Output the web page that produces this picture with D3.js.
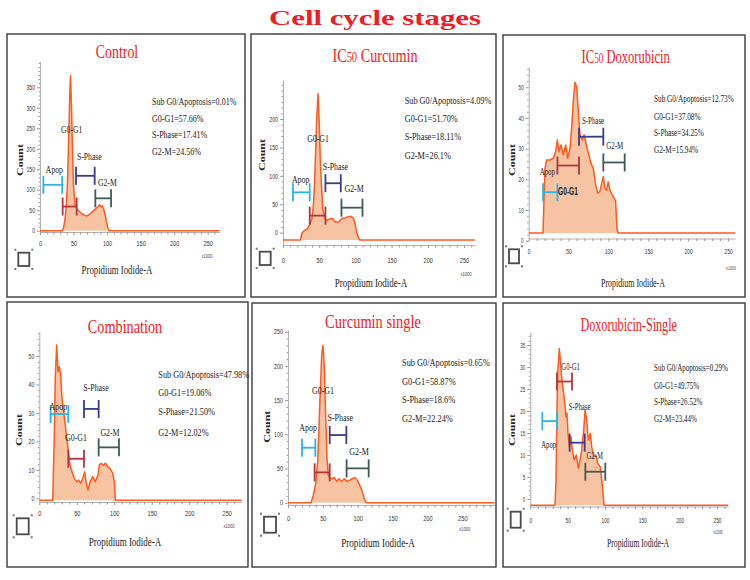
<!DOCTYPE html>
<html><head><meta charset="utf-8">
<script src="https://cdn.jsdelivr.net/npm/d3@7"></script>
<style>body{margin:0;background:#fff}svg{display:block}</style>
</head><body>
<svg id="c" width="750" height="580"></svg>
<script>
// ---------------- DATA ----------------
const mainTitle = "Cell cycle stages";
const panelTitles = ["Control", "IC50 Curcumin", "IC50 Doxorubicin", "Combination", "Curcumin single", "Doxorubicin-Single"];
const xAxisLabel = "Propidium Iodide-A";
const yAxisLabel = "Count";
const xUnitLabel = "x1000";
const gateNames = ["Apop", "G0-G1", "S-Phase", "G2-M"];
const statNames = ["Sub G0/Apoptosis", "G0-G1", "S-Phase", "G2-M"];
const statValues = [
  ["0.01%", "57.66%", "17.41%", "24.56%"],
  ["4.09%", "51.70%", "18.11%", "26.1%"],
  ["12.73%", "37.08%", "34.25%", "15.94%"],
  ["47.98%", "19.06%", "21.50%", "12.02%"],
  ["0.65%", "58.87%", "18.6%", "22.24%"],
  ["0.29%", "49.75%", "26.52%", "23.44%"]
];
const xTickValues = [0, 50, 100, 150, 200, 250];
const yTickValues = [
  [0, 50, 100, 150, 200, 250, 300, 350],
  [0, 50, 100, 150, 200],
  [0, 10, 20, 30, 40, 50],
  [0, 10, 20, 30, 40, 50],
  [0, 50, 100, 150, 200, 250],
  [0, 5, 10, 15, 20, 25, 30, 35]
];

// histograms: PI (x1000) and count
const controlPI    = [0, 33, 35, 37, 39, 41, 43, 44.5, 45.5, 47, 48.5, 50, 52, 55, 58, 62, 66, 70, 74, 78, 82, 86, 89, 91, 93, 95, 97, 99, 101, 103, 268];
const controlCount = [0, 0, 6, 25, 55, 120, 240, 340, 378, 300, 190, 110, 66, 52, 48, 42, 38, 36, 40, 46, 52, 58, 63, 58, 61, 52, 40, 22, 8, 0, 0];

const curcPI    = [0, 24, 26, 28, 30, 33, 36, 38, 40, 42, 43.5, 45, 46.5, 48.4, 50, 51.5, 53, 55, 58, 61, 64, 68, 72, 77, 81, 86, 90, 94, 97.5, 100, 102, 104, 106, 265];
const curcCount = [-13, -13, -1, 2, 4, 6, 12, 18, 25, 50, 84, 140, 200, 245, 195, 130, 85, 40, 25, 22, 24, 25, 19, 19, 25, 26, 28, 29, 25, 12, 0, -8, -13, -13];

const doxPI    = [0, 18, 19, 20.4, 22.5, 26.7, 30.8, 33.8, 35.9, 38, 40.5, 43.4, 46.4, 48.9, 51.8, 53.9, 55.9, 58, 60.2, 62.2, 64.3, 67.2, 69.7, 72.7, 75.6, 78.1, 81, 84, 86.5, 89.3, 91.5, 93.5, 95.6, 97.7, 99.7, 101.9, 104.8, 107.3, 109, 110.7, 112.3, 259];
const doxCount = [2.5, 2.5, 12, 23.6, 26.3, 26.3, 26.9, 29, 32.8, 29, 31.2, 28, 31.2, 26.9, 30.1, 36.6, 45.3, 51.6, 50.2, 42, 34.5, 32.8, 34.5, 30.6, 27.9, 25.2, 23.6, 18.2, 15.5, 16, 18.7, 20.9, 17, 16.5, 19.2, 16.5, 14.9, 13.8, 13, 4, 2.5, 2.5];

const combPI    = [0, 17.9, 20, 21.4, 23.2, 25, 26.7, 28.5, 30.3, 33, 35.6, 38.3, 41, 43.6, 46.7, 49.9, 52.6, 55.2, 57.9, 60.6, 62.3, 65, 67.7, 71.3, 74.7, 78.3, 80, 82.7, 85.4, 88.1, 91.3, 94.4, 98, 100.1, 101.4, 270];
const combCount = [-0.7, -0.7, 22, 43, 53.9, 44.5, 46.2, 43.3, 35, 29.3, 23.4, 17.6, 11.7, 9.3, 7, 5.8, 6.4, 5.3, 7, 9.3, 5.8, 2.9, 5.8, 7.6, 5.8, 8.2, 11.7, 12.3, 11.5, 12.3, 11.1, 10.5, 8.8, 5.8, -0.7, -0.7];

const curcSinglePI    = [0, 33, 36.3, 39.7, 42.6, 45.4, 48.3, 50.2, 52.1, 54.1, 55.9, 57.8, 60.2, 63.5, 66.4, 69.8, 73.1, 77, 80.7, 84.6, 88.4, 92.2, 96.1, 99, 101.8, 105.6, 109.4, 112.3, 296];
const curcSingleCount = [0, 0, 11, 28, 60, 138, 216, 230, 196, 123, 65, 40, 36, 35, 37, 31, 35, 31, 35, 31, 33, 35, 37, 33, 28, 19, 6, 0, 0];

const doxSinglePI    = [0, 33.1, 34.4, 35.8, 36.7, 37.5, 38.8, 40.2, 41.5, 42.8, 44.7, 46.5, 47.8, 49.1, 50.5, 52.2, 54.5, 56.3, 58.9, 61.6, 64.3, 66.6, 68.8, 71.5, 73.3, 75.5, 77.7, 80.4, 82.2, 84.9, 87.6, 90.3, 93.8, 96.5, 98.7, 265];
const doxSingleCount = [-1.4, -1.4, 4.3, 21, 28.6, 30.8, 34.2, 31.6, 28.6, 26.3, 24, 21, 18.7, 19.5, 14.9, 11.9, 14.2, 11.1, 8.9, 10, 7, 8.9, 11.1, 15.7, 20.2, 18, 13.4, 14.9, 11.9, 9.6, 10, 8.1, 7.3, 2.8, -1.4, -1.4];

const histPI = [controlPI, curcPI, doxPI, combPI, curcSinglePI, doxSinglePI];
const histCount = [controlCount, curcCount, doxCount, combCount, curcSingleCount, doxSingleCount];

// gates: [from, to, level] in data units (order: Apop, G0-G1, S-Phase, G2-M)
const gateLimits = [
  [[5, 33, 112], [33.8, 54.7, 59], [53.7, 81.5, 134], [82.5, 105.9, 79]],
  [[13.8, 36.9, 71], [36.9, 58.6, 30], [58.6, 79.8, 87], [80.7, 109.8, 44]],
  [[18, 36, 15.8], [36, 63.1, 24.5], [63.1, 93.6, 33.9], [93.6, 120.4, 25.5]],
  [[15.1, 38.7, 29.6], [38.7, 59.6, 13.9], [59.6, 79.2, 31.4], [79.2, 106.3, 17.9]],
  [[20.1, 39.2, 80.4], [38.2, 59.8, 44.3], [59.8, 83.7, 98.9], [84.1, 115.7, 50.2]],
  [[16.1, 35.7, 17.7], [35.7, 55.8, 26.7], [52.7, 72.8, 12.8], [73.7, 100.4, 6.2]]
];
// gate label anchor (data units)
const gateLabelAt = [
  [[21.4, 150], [47.2, 247], [73.6, 181], [100.4, 118]],
  [[24.4, 93], [48.4, 166], [72.4, 116], [98.2, 78]],
  [[23.4, 22.5], [49.3, 16], [80.7, 39.3], [107.9, 30.9]],
  [[25.4, 32.2], [48.9, 21.3], [75.6, 39], [94.3, 23.2]],
  [[28.7, 109.6], [50.2, 163.7], [75, 124.8], [101.8, 74.6]],
  [[24.6, 12.3], [54, 30.2], [66, 21], [86.2, 9.8]]
];

// ---------------- LAYOUT ----------------
const gateColors = ["#29b4ea", "#b3353d", "#3a3a8e", "#3e5b5a"];
const red = "#ee1c25";
const serif = "'Liberation Serif','Times New Roman',serif";
const sans = "'Liberation Sans',Arial,sans-serif";
const layout = [
  {box:[7,34,245,297], x0:40, x250:207.7, xEnd:268, y0:230.7, yRefV:350, yRefP:87.3, yTop:61.7, axisY:232, tickLabY:243, k:0.73,
   title:[117,58], stats:[152,[104.6,121.9,137.9,154.6]], xlab:[117,274], x1000:[207,258], count:[19,160], icon:[18.3,252.7,11,13.3]},
  {box:[251,34,496,297], x0:283, x250:464, xEnd:265, y0:232.7, yRefV:200, yRefP:119, yTop:80, axisY:245, tickLabY:260, k:0.75,
   title:[375,61.5], stats:[404.7,[103.6,122,140.3,158.6]], xlab:[371,287], x1000:[466,276], count:[261,155], icon:[259.7,251.7,11,13.3]},
  {box:[503,35,745,297], x0:528.7, x250:728, xEnd:259, y0:240.7, yRefV:50, yRefP:87.3, yTop:66.7, axisY:238.5, tickLabY:251.7, k:0.66,
   title:[625.7,63], stats:[654,[102,119.6,136.3,153]], xlab:[633,287], x1000:[731,270], count:[510.7,160], icon:[509,249.3,10,14]},
  {box:[7,302,248,567], x0:39.3, x250:226.7, xEnd:270, y0:498.3, yRefV:50, yRefP:356, yTop:331.7, axisY:502, tickLabY:513.3, k:0.75,
   title:[125,333], stats:[158.3,[377.6,396.3,414.6,436.3]], xlab:[125,545.5], x1000:[229,528], count:[18.3,430], icon:[16.7,518.3,12,16]},
  {box:[252,303,496,567], x0:288, x250:462.3, xEnd:296, y0:502.7, yRefV:250, yRefP:331.7, yTop:330, axisY:505, tickLabY:518.3, k:0.76,
   title:[373,328], stats:[402,[366.3,385.3,403,422]], xlab:[378,546.5], x1000:[464.7,531], count:[266.3,426.7], icon:[264,516.7,12,16]},
  {box:[503,303,745,567], x0:530.3, x250:717, xEnd:265, y0:499, yRefV:35, yRefP:345, yTop:332.3, axisY:506.5, tickLabY:520, k:0.64,
   title:[628.7,330.5], stats:[654,[371.3,388.6,405.3,422]], xlab:[638,546.5], x1000:[718,534], count:[511.3,430], icon:[510.7,511.7,10,16]}
];

// ---------------- DRAW ----------------
const svg = d3.select("#c");
svg.append("rect").attr("width", 750).attr("height", 580).attr("fill", "#fff");

function squeezedText(parent, x, y, k, rotate) {
  const g = parent.append("g").attr("transform", `translate(${x},${y}) scale(${k},1)` + (rotate ? ` rotate(${rotate})` : ""));
  return g.append("text");
}

svg.append("text").attr("x", 375).attr("y", 25).attr("text-anchor", "middle")
  .style("font-family", serif).style("font-weight", "bold").style("font-size", "21px")
  .attr("textLength", 212).attr("lengthAdjust", "spacingAndGlyphs")
  .attr("fill", red).text(mainTitle);

layout.forEach((L, i) => {
  const p = svg.append("g");
  const k = L.k;
  // border
  p.append("rect").attr("x", L.box[0]).attr("y", L.box[1])
    .attr("width", L.box[2] - L.box[0]).attr("height", L.box[3] - L.box[1])
    .attr("fill", "none").attr("stroke", "#3a3a3a").attr("stroke-width", 1.4);

  // scales
  const xS = d3.scaleLinear().domain([0, L.xEnd]).range([L.x0, L.x0 + L.xEnd * (L.x250 - L.x0) / 250]);
  const yRef = d3.scaleLinear().domain([0, L.yRefV]).range([L.y0, L.yRefP]);
  const yS = d3.scaleLinear().domain([yRef.invert(L.axisY), yRef.invert(L.yTop)]).range([L.axisY, L.yTop]);

  // y axis
  const yMaj = yTickValues[i];
  const step = yMaj[1] - yMaj[0];
  const yMin = d3.range(0, yS.domain()[1], step / 5).filter(v => !yMaj.includes(v));
  const yAx = p.append("g").attr("transform", `translate(${L.x0},0)`)
    .call(d3.axisLeft(yS).tickValues(yMaj).tickSize(3).tickSizeOuter(0).tickPadding(2));
  p.append("g").attr("transform", `translate(${L.x0},0)`)
    .call(d3.axisLeft(yS).tickValues(yMin).tickSize(1.5).tickFormat("")).select(".domain").remove();
  // x axis
  const xMin = d3.range(0, L.xEnd, 10).filter(v => !xTickValues.includes(v));
  const xAx = p.append("g").attr("transform", `translate(0,${L.axisY})`)
    .call(d3.axisBottom(xS).tickValues(xTickValues).tickSize(3).tickSizeOuter(0).tickPadding(1));
  p.append("g").attr("transform", `translate(0,${L.axisY})`)
    .call(d3.axisBottom(xS).tickValues(xMin).tickSize(2.5).tickFormat("")).select(".domain").remove();
  p.selectAll(".domain").attr("stroke", "#b0b0b0");
  p.selectAll(".tick line").attr("stroke", "#999");
  yAx.selectAll("text").style("font-family", sans).style("font-size", "7px").attr("fill", "#333")
    .each(function(){ const w = this.getComputedTextLength(); d3.select(this).attr("textLength", w * k).attr("lengthAdjust", "spacingAndGlyphs"); });
  xAx.selectAll("text").style("font-family", sans).style("font-size", "7.5px").attr("fill", "#333")
    .attr("y", null).attr("dy", null)
    .attr("y", L.tickLabY - L.axisY + 2.6)
    .each(function(){ const w = this.getComputedTextLength(); d3.select(this).attr("textLength", w * k).attr("lengthAdjust", "spacingAndGlyphs"); });

  // histogram
  const pts = histPI[i].map((v, j) => [v, histCount[i][j]]);
  const base = histCount[i][0];
  p.append("path").datum(pts)
    .attr("d", d3.area().x(d => xS(d[0])).y0(yS(base)).y1(d => yS(d[1])))
    .attr("fill", "#f7c4a3");
  p.append("path").datum(pts)
    .attr("d", d3.line().x(d => xS(d[0])).y(d => yS(d[1])))
    .attr("fill", "none").attr("stroke", "#ff5a1f").attr("stroke-width", 1.5).attr("stroke-linejoin", "round");

  // gates
  gateLimits[i].forEach((g, j) => {
    const gg = p.append("g").attr("stroke", gateColors[j]).attr("stroke-width", 1.8);
    const yy = yS(g[2]);
    gg.append("line").attr("x1", xS(g[0])).attr("x2", xS(g[1])).attr("y1", yy).attr("y2", yy);
    gg.append("line").attr("x1", xS(g[0])).attr("x2", xS(g[0])).attr("y1", yy - 9).attr("y2", yy + 9);
    gg.append("line").attr("x1", xS(g[1])).attr("x2", xS(g[1])).attr("y1", yy - 9).attr("y2", yy + 9);
    const la = gateLabelAt[i][j];
    const boldSans = (i === 2 && j === 1);
    squeezedText(p, xS(la[0]), yS(la[1]) + 3.5, k)
      .attr("text-anchor", "middle")
      .style("font-family", boldSans ? sans : serif)
      .style("font-weight", boldSans ? "bold" : "normal")
      .style("font-size", boldSans ? "10px" : "10.5px")
      .attr("fill", "#222").text(gateNames[j]);
  });

  // title
  const t = squeezedText(p, L.title[0], L.title[1], k).attr("text-anchor", "middle")
    .style("font-family", serif).style("font-size", "19px").attr("fill", red);
  const title = panelTitles[i];
  if (title.startsWith("IC50")) {
    t.append("tspan").text("IC");
    t.append("tspan").style("font-size", "14px").text("50");
    t.append("tspan").text(title.slice(4));
  } else t.text(title);

  // stats
  statNames.forEach((s, j) => {
    squeezedText(p, L.stats[0], L.stats[1][j], k)
      .style("font-family", serif).style("font-size", "11px").attr("fill", "#222")
      .text(s + "=" + statValues[i][j]);
  });

  // axis labels
  squeezedText(p, L.xlab[0], L.xlab[1], k).attr("text-anchor", "middle")
    .style("font-family", serif).style("font-size", "12px").attr("fill", "#222").text(xAxisLabel);
  squeezedText(p, L.count[0] + 4, L.count[1], k, -90).attr("text-anchor", "middle")
    .style("font-family", serif).style("font-weight", "bold").style("font-size", "12px").attr("fill", "#222").text(yAxisLabel);
  squeezedText(p, L.x1000[0], L.x1000[1], k).attr("text-anchor", "middle")
    .style("font-family", sans).style("font-size", "5.5px").attr("fill", "#444").text(xUnitLabel);

  // icon
  const [ix, iy, iw, ih] = L.icon;
  p.append("rect").attr("x", ix).attr("y", iy).attr("width", iw).attr("height", ih)
    .attr("fill", "none").attr("stroke", "#4a4a4a").attr("stroke-width", 1.8);
  [[ix - 3, iy - 3], [ix + iw + 3, iy - 3], [ix - 3, iy + ih + 3], [ix + iw + 3, iy + ih + 3]].forEach(c => {
    p.append("rect").attr("x", c[0] - 1).attr("y", c[1] - 1).attr("width", 2).attr("height", 2).attr("fill", "#777");
  });
});
</script>
</body></html>
